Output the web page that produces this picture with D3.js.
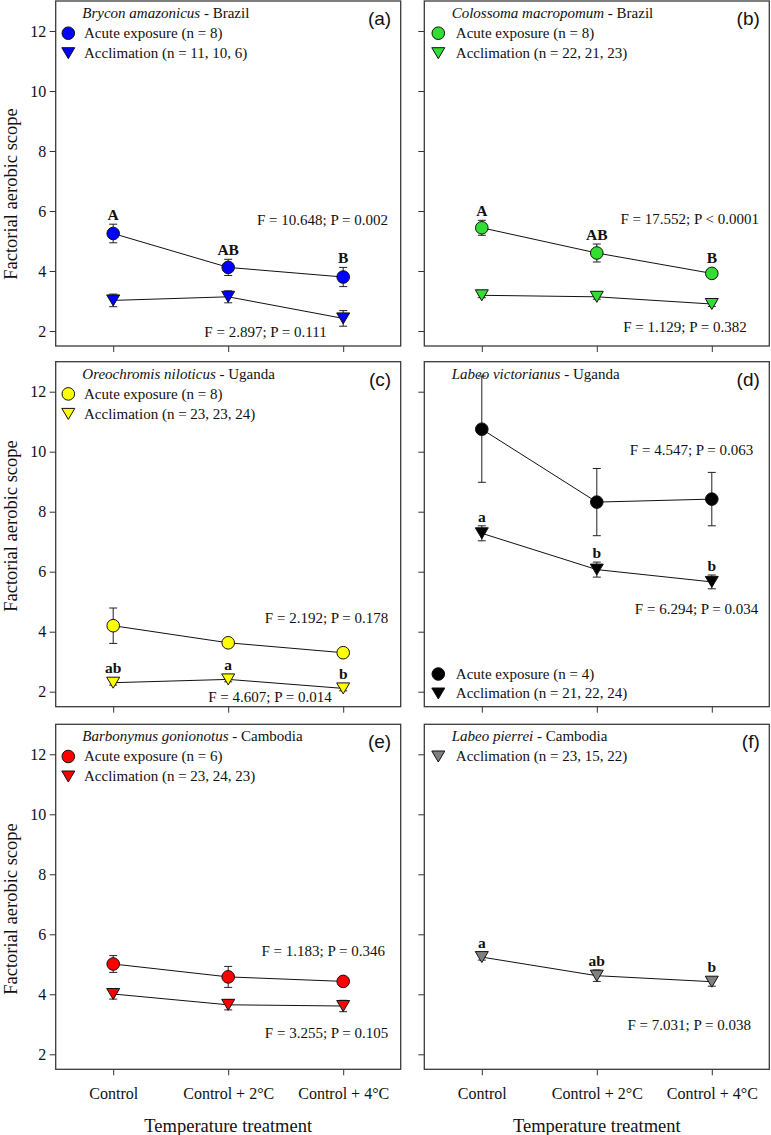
<!DOCTYPE html>
<html>
<head>
<meta charset="utf-8">
<script src="https://cdn.jsdelivr.net/npm/d3@7"></script>
<style>
  html, body { margin: 0; padding: 0; background: #fff; }
  svg { display: block; }
</style>
</head>
<body>
<svg id="chart" width="771" height="1135"></svg>
<script>
// ---------------- DATA ----------------
const categories = ["Control", "Control + 2°C", "Control + 4°C"];
const panelLabels = ["(a)", "(b)", "(c)", "(d)", "(e)", "(f)"];
const species = ["Brycon amazonicus", "Colossoma macropomum", "Oreochromis niloticus", "Labeo victorianus", "Barbonymus gonionotus", "Labeo pierrei"];
const countries = ["Brazil", "Brazil", "Uganda", "Uganda", "Cambodia", "Cambodia"];
const colors = ["#0000ff", "#33dd33", "#ffff00", "#000000", "#ff0000", "#808080"];

const acuteMean = [[5.25, 4.12, 3.80], [5.44, 4.60, 3.92], [4.20, 3.63, 3.30], [10.75, 8.32, 8.42], [5.01, 4.58, 4.43], null];
const acuteSE   = [[0.31, 0.27, 0.32], [0.25, 0.30, 0.10], [0.59, 0.10, 0.08], [1.77, 1.12, 0.89], [0.28, 0.35, 0.10], null];
const acclMean  = [[3.02, 3.14, 2.42], [3.19, 3.14, 2.90], [2.30, 2.41, 2.11], [7.28, 6.07, 5.66], [4.01, 3.65, 3.61], [5.24, 4.62, 4.42]];
const acclSE    = [[0.21, 0.20, 0.26], [0.08, 0.08, 0.08], [0.08, 0.08, 0.08], [0.25, 0.25, 0.23], [0.17, 0.17, 0.19], [0.10, 0.19, 0.15]];

const acuteLetters = [["A", "AB", "B"], ["A", "AB", "B"], null, null, null, null];
const acclLetters  = [null, null, ["ab", "a", "b"], ["a", "b", "b"], null, ["a", "ab", "b"]];

const acuteN = ["8", "8", "8", "4", "6", null];
const acclN  = ["11, 10, 6", "22, 21, 23", "23, 23, 24", "21, 22, 24", "23, 24, 23", "23, 15, 22"];

const acuteStats = ["F = 10.648; P = 0.002", "F = 17.552; P < 0.0001", "F = 2.192; P = 0.178", "F = 4.547; P = 0.063", "F = 1.183; P = 0.346", null];
const acclStats  = ["F = 2.897; P = 0.111", "F = 1.129; P = 0.382", "F = 4.607; P = 0.014", "F = 6.294; P = 0.034", "F = 3.255; P = 0.105", "F = 7.031; P = 0.038"];

const yTicks = [2, 4, 6, 8, 10, 12];
const yDomain = [1.5, 13];
const yTitle = "Factorial aerobic scope";
const xTitle = "Temperature treatment";

// ---------------- LAYOUT ----------------
const colLeft = [55.7, 424.3];
const rowTop = [1, 361.7, 724.3];
const panelW = 345, panelH = 345;
const yTitleCenter = [194, 526, 909];
// annotation placement: [right offset px, y value]
const acuteStatPos = [[12.7, 5.7], [10.3, 5.73], [12.4, 4.45], [16, 10.07], [15.7, 5.45], null];
const acclStatPos  = [[74, 1.98], [22.6, 2.14], [69, 1.83], [11, 4.75], [12.4, 2.70], [18.3, 2.98]];
const legendAtBottom = [false, false, false, true, false, false];

const serif = "'Liberation Serif', 'Times New Roman', serif";
const sans = "'Liberation Sans', Arial, sans-serif";

const svg = d3.select("#chart");

function downTri(w, h) {
  return `M${-w/2},${-h/2}L${w/2},${-h/2}L0,${h/2}Z`;
}
const TW = 13, TH = 11;

for (let p = 0; p < 6; p++) {
  const col = p % 2, row = Math.floor(p / 2);
  const left = colLeft[col], top = rowTop[row];
  const g = svg.append("g").attr("transform", `translate(${left},${top})`);

  const x = d3.scalePoint().domain(categories).range([0, panelW]).padding(0.5);
  const y = d3.scaleLinear().domain(yDomain).range([panelH, 0]);

  // axes
  const yAxis = d3.axisLeft(y).tickValues(yTicks).tickSize(6).tickPadding(3.5)
    .tickFormat(col === 0 ? d3.format("d") : () => "");
  const ya = g.append("g").call(yAxis);
  const xAxis = d3.axisBottom(x).tickSize(6).tickPadding(12)
    .tickFormat(row === 2 ? (d => d) : () => "");
  const xa = g.append("g").attr("transform", `translate(0,${panelH})`).call(xAxis);
  [ya, xa].forEach(a => {
    a.select(".domain").remove();
    a.selectAll(".tick line").attr("stroke", "#333").attr("stroke-width", 1);
    a.selectAll("text").attr("font-family", serif).attr("font-size", 16).attr("fill", "#111");
  });

  // frame
  g.append("rect").attr("x", 0).attr("y", 0).attr("width", panelW).attr("height", panelH)
    .attr("fill", "none").attr("stroke", "#3a3a3a").attr("stroke-width", 1.3);

  // y axis title
  if (col === 0) {
    svg.append("text")
      .attr("transform", `translate(16.5,${yTitleCenter[row]}) rotate(-90)`)
      .attr("text-anchor", "middle").attr("font-family", serif).attr("font-size", 18.5)
      .attr("fill", "#111").text(yTitle);
  }
  if (row === 2) {
    svg.append("text").attr("x", left + panelW / 2).attr("y", 1132)
      .attr("text-anchor", "middle").attr("font-family", serif).attr("font-size", 18.5)
      .attr("fill", "#111").text(xTitle);
  }

  const series = [];
  if (acuteMean[p]) series.push({ mean: acuteMean[p], se: acuteSE[p], letters: acuteLetters[p], shape: "circle" });
  series.push({ mean: acclMean[p], se: acclSE[p], letters: acclLetters[p], shape: "tri" });

  const line = d3.line().x((d, i) => x(categories[i])).y(d => y(d));

  series.forEach(s => {
    g.append("path").datum(s.mean).attr("d", line)
      .attr("fill", "none").attr("stroke", "#111").attr("stroke-width", 1);
  });
  series.forEach(s => {
    s.mean.forEach((m, i) => {
      const cx = x(categories[i]);
      const y1 = y(m + s.se[i]), y0 = y(m - s.se[i]);
      g.append("line").attr("x1", cx).attr("x2", cx).attr("y1", y1).attr("y2", y0)
        .attr("stroke", "#222").attr("stroke-width", 1);
      [y1, y0].forEach(yy => g.append("line").attr("x1", cx - 4).attr("x2", cx + 4)
        .attr("y1", yy).attr("y2", yy).attr("stroke", "#222").attr("stroke-width", 1));
    });
  });
  series.forEach(s => {
    s.mean.forEach((m, i) => {
      const cx = x(categories[i]), cy = y(m);
      if (s.shape === "circle") {
        g.append("circle").attr("cx", cx).attr("cy", cy).attr("r", 6.3)
          .attr("fill", colors[p]).attr("stroke", "#111").attr("stroke-width", 1);
      } else {
        g.append("path").attr("d", downTri(TW, TH)).attr("transform", `translate(${cx},${cy})`)
          .attr("fill", colors[p]).attr("stroke", "#111").attr("stroke-width", 1);
      }
      if (s.letters) {
        const markTop = cy - (s.shape === "circle" ? 6.3 : TH / 2);
        const topY = Math.min(markTop, y(m + s.se[i]));
        g.append("text").attr("x", cx).attr("y", topY - 4).attr("text-anchor", "middle")
          .attr("font-family", serif).attr("font-size", 15.5).attr("font-weight", "bold")
          .attr("fill", "#111").text(s.letters[i]);
      }
    });
  });

  // stats
  const stats = [[acuteStats[p], acuteStatPos[p]], [acclStats[p], acclStatPos[p]]];
  stats.forEach(([t, pos]) => {
    if (!t) return;
    g.append("text").attr("x", panelW - pos[0]).attr("y", y(pos[1]) + 5)
      .attr("text-anchor", "end").attr("font-family", serif).attr("font-size", 15)
      .attr("fill", "#111").text(t);
  });

  // title
  const titleX = col === 0 ? 26.6 : 27.4;
  const tt = g.append("text").attr("x", titleX).attr("y", 17.2)
    .attr("font-family", serif).attr("font-size", 15).attr("fill", "#111");
  tt.append("tspan").attr("font-style", "italic").text(species[p]);
  tt.append("tspan").text(" - " + countries[p]);

  // panel label
  g.append("text").attr("x", panelW - 9.5).attr("y", 24).attr("text-anchor", "end")
    .attr("font-family", sans).attr("font-size", 19).attr("fill", "#111").text(panelLabels[p]);

  // legend
  const symX = col === 0 ? 12.6 : 14, txtX = col === 0 ? 28.3 : 31.5;
  const legItems = [];
  if (acuteN[p]) legItems.push({ shape: "circle", label: `Acute exposure (n = ${acuteN[p]})` });
  legItems.push({ shape: "tri", label: `Acclimation (n = ${acclN[p]})` });
  legItems.forEach((it, k) => {
    const ly = legendAtBottom[p] ? panelH - 32.7 + k * 19.5 : 32.2 + k * 20;
    if (it.shape === "circle") {
      g.append("circle").attr("cx", symX).attr("cy", ly).attr("r", 6.3)
        .attr("fill", colors[p]).attr("stroke", "#111").attr("stroke-width", 1);
    } else {
      g.append("path").attr("d", downTri(TW, TH)).attr("transform", `translate(${symX},${ly})`)
        .attr("fill", colors[p]).attr("stroke", "#111").attr("stroke-width", 1);
    }
    g.append("text").attr("x", txtX).attr("y", ly + 5).attr("font-family", serif)
      .attr("font-size", 15).attr("fill", "#111").text(it.label);
  });
}
</script>
</body>
</html>
